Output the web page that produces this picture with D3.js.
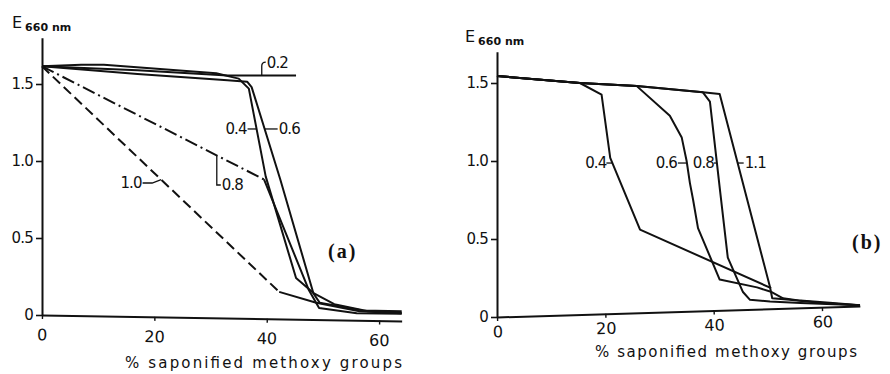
<!DOCTYPE html>
<html>
<head>
<meta charset="utf-8">
<script src="https://cdn.jsdelivr.net/npm/d3@7"></script>
<style>
  body { margin: 0; background: #fff; }
  svg { display: block; }
</style>
</head>
<body>
<svg id="chart" width="890" height="374"></svg>
<script>
// Extinction at 660 nm against % saponified methoxy groups, two panels.

const xTickValues = [0, 20, 40, 60];
const yTickValues = [0, 0.5, 1.0, 1.5];
const yTickLabels = ["0", "0.5", "1.0", "1.5"];
const xTitle = "% saponified methoxy groups";

// Panel (a) — curves labelled 0.2 … 1.0, as [% saponified, E660]
const a02 = [[0, 1.615], [17, 1.59], [33, 1.555], [45.2, 1.555]];
const a04 = [[0, 1.615], [7, 1.625], [11, 1.625], [31, 1.57], [35, 1.535], [36.8, 1.47],
             [39.8, 0.9], [45.2, 0.24], [48.4, 0.14], [52, 0.07], [58, 0.025], [64, 0.015]];
const a06 = [[0, 1.615], [17, 1.565], [33, 1.525], [36.5, 1.515], [37.3, 1.48], [42.4, 0.88],
             [48.3, 0.14], [49.4, 0.08], [57, 0.03], [64, 0.025]];
const a08 = [[0, 1.615], [39.5, 0.88], [47.5, 0.16], [49.3, 0.045], [56, 0.012], [64, 0.008]];
const a10 = [[0, 1.615], [42.2, 0.15], [48.8, 0.08], [56.5, 0.025], [64, 0.012]];

// Panel (b) — curves labelled 0.4 … 1.1
const b04 = [[0, 1.545], [15.3, 1.5], [19.3, 1.425], [20.9, 1.02], [26.4, 0.56], [50.6, 0.185]];
const b06 = [[0, 1.545], [15.3, 1.5], [25.8, 1.48], [31.9, 1.29], [34.1, 1.15], [35.0, 1.0],
             [35.6, 0.86], [36.2, 0.75], [37.1, 0.57], [41.1, 0.24], [48, 0.19], [50.7, 0.16],
             [52.8, 0.12], [56, 0.105], [62, 0.09], [67, 0.075]];
const b08 = [[0, 1.545], [15.3, 1.5], [25.8, 1.48], [38, 1.44], [39.3, 1.38], [41.2, 0.8],
             [42.6, 0.38], [45.4, 0.16], [46.7, 0.11], [50.4, 0.1], [56, 0.09], [67, 0.075]];
const b11 = [[0, 1.545], [15.3, 1.5], [25.8, 1.48], [38, 1.44], [41.1, 1.43], [50.4, 0.19],
             [50.8, 0.12], [54, 0.11], [60, 0.09], [67, 0.075]];

const ink = "#111";
const font = "'DejaVu Sans', sans-serif";
const svg = d3.select("#chart");

// interpolation helpers used to attach label leaders to the curves
function yAtX(pts, xv) {
  for (let i = 0; i < pts.length - 1; i++) {
    const [x0, y0] = pts[i], [x1, y1] = pts[i + 1];
    if (xv >= x0 && xv <= x1) return y0 + (y1 - y0) * (xv - x0) / (x1 - x0);
  }
  return pts[pts.length - 1][1];
}
function xAtY(pts, yv, from = 0) {
  for (let i = from; i < pts.length - 1; i++) {
    const [x0, y0] = pts[i], [x1, y1] = pts[i + 1];
    if ((yv <= y0 && yv >= y1) || (yv >= y0 && yv <= y1)) {
      if (y1 === y0) return x0;
      return x0 + (x1 - x0) * (yv - y0) / (y1 - y0);
    }
  }
  return pts[pts.length - 1][0];
}

function panel(opts) {
  const { x, y, tilt, labelGap, series } = opts;
  const g = svg.append("g");

  // y axis
  const yAxis = d3.axisLeft(y).tickValues(yTickValues)
    .tickFormat((d, i) => yTickLabels[i]).tickSize(6).tickPadding(3).tickSizeOuter(0);
  const gy = g.append("g").attr("transform", `translate(${x(0)},0)`).call(yAxis);
  gy.select(".domain").attr("stroke", ink).attr("stroke-width", 2);
  gy.selectAll(".tick line").attr("stroke", ink).attr("stroke-width", 1.6);
  gy.selectAll(".tick text").attr("fill", ink).style("font", `15px ${font}`)
    .attr("letter-spacing", -0.8);

  // x axis (printed slightly askew)
  const xAxis = d3.axisBottom(x).tickValues(xTickValues).tickSize(4)
    .tickPadding(labelGap).tickSizeOuter(0);
  const gx = g.append("g")
    .attr("transform", `translate(0,${y(0)}) rotate(${tilt},${x(0)},0)`).call(xAxis);
  gx.select(".domain").attr("stroke", ink).attr("stroke-width", 2);
  gx.selectAll(".tick line").attr("stroke", ink).attr("stroke-width", 1.4);
  gx.selectAll(".tick text").attr("fill", ink).style("font", `16px ${font}`);

  // curves; a dashed head part may precede the solid tail
  const gen = d3.line().x(d => x(d[0])).y(d => y(d[1]));
  series.forEach(s => {
    const parts = s.head
      ? [[s.pts.slice(0, s.head + 1), s.dash], [s.pts.slice(s.head), null]]
      : [[s.pts, null]];
    parts.forEach(([pts, dash]) => {
      g.append("path").attr("d", gen(pts)).attr("fill", "none")
        .attr("stroke", ink).attr("stroke-width", 2)
        .attr("stroke-linejoin", "round")
        .attr("stroke-dasharray", dash);
    });
  });
  return g;
}

function eLabel(px, py) {
  const t = svg.append("text").attr("x", px).attr("y", py).attr("fill", ink)
    .style("font-family", font);
  t.append("tspan").style("font-size", "16px").text("E");
  t.append("tspan").attr("dx", 3).attr("dy", 3).style("font-size", "11px")
    .style("font-weight", "bold").text("660 nm");
}

function curveLabel(px, py, txt, anchor = "start") {
  svg.append("text").attr("x", px).attr("y", py).attr("dy", "0.36em")
    .attr("text-anchor", anchor).attr("fill", ink).attr("letter-spacing", -0.9)
    .style("font", `15px ${font}`).text(txt);
}
function leader(d) {
  svg.append("path").attr("d", d).attr("fill", "none").attr("stroke", ink).attr("stroke-width", 1.3);
}

// ---------- panel (a)
const xA = d3.scaleLinear().domain([0, 64]).range([42, 401.7]);
const yA = d3.scaleLinear().domain([0, 1.8]).range([315, 37.8]);
panel({
  x: xA, y: yA, tilt: 0.95, labelGap: 10,
  series: [
    { pts: a02 }, { pts: a04 }, { pts: a06 },
    { pts: a08, head: 1, dash: "13,4,2,4" },
    { pts: a10, head: 1, dash: "10,5" }
  ]
});
eLabel(12, 28);

// 0.2
{
  const lx = 39.1, ly = yAtX(a02, lx), cy = yA(1.636);
  leader(`M${xA(lx)},${yA(ly)} V${cy + 3} q0,-4 4,-4`);
  curveLabel(xA(lx) + 5, cy, "0.2");
}
// 0.4 and 0.6
{
  const e = 1.208, cy = yA(e);
  const x4 = xA(xAtY(a04, e, 5)), x6 = xA(xAtY(a06, e, 4));
  leader(`M${x4},${cy} H${x4 - 9}`);
  curveLabel(x4 - 10, cy, "0.4", "end");
  leader(`M${x6},${cy} H${x6 + 13}`);
  curveLabel(x6 + 14, cy, "0.6");
}
// 0.8
{
  const lx = 31.1, ly = yAtX(a08, lx), cy = yA(0.844);
  leader(`M${xA(lx)},${yA(ly)} V${cy} H${xA(lx) + 4}`);
  curveLabel(xA(lx) + 5, cy, "0.8");
}
// 1.0
{
  const lx = 21.2, ly = yAtX(a10, lx), cy = yA(0.857);
  leader(`M${xA(17.9)},${cy} H${xA(19.6)} L${xA(lx)},${yA(ly)}`);
  curveLabel(xA(17.9) - 1, cy, "1.0", "end");
}
svg.append("text").attr("x", 328).attr("y", 258).attr("fill", ink)
  .attr("letter-spacing", 2)
  .style("font", "bold 20px 'Liberation Serif', serif").text("(a)");
svg.append("text").attr("x", 125).attr("y", 368).attr("fill", ink)
  .attr("textLength", 277).attr("lengthAdjust", "spacing")
  .style("font", `15px ${font}`).text(xTitle);

// ---------- panel (b)
const xB = d3.scaleLinear().domain([0, 67]).range([497, 860]);
const yB = d3.scaleLinear().domain([0, 1.7]).range([317, 51.8]);
panel({
  x: xB, y: yB, tilt: -1.74, labelGap: 5,
  series: [{ pts: b04 }, { pts: b06 }, { pts: b08 }, { pts: b11 }]
});
eLabel(465, 42);

{
  const e = 0.987, cy = yB(e);
  const x4 = xB(xAtY(b04, e, 2)), x6 = xB(xAtY(b06, e, 4));
  const x8 = xB(xAtY(b08, e, 4)), x11 = xB(xAtY(b11, e, 4));
  leader(`M${x4},${cy} H${x4 - 6}`);
  curveLabel(x4 - 6, cy, "0.4", "end");
  leader(`M${x6},${cy} H${x6 - 9}`);
  curveLabel(x6 - 10, cy, "0.6", "end");
  leader(`M${x8},${cy} H${x8 - 3}`);
  curveLabel(x8 - 3, cy, "0.8", "end");
  leader(`M${x11},${cy} H${x11 + 6}`);
  curveLabel(x11 + 7, cy, "1.1");
}
svg.append("text").attr("x", 852).attr("y", 249).attr("fill", ink)
  .attr("letter-spacing", 2)
  .style("font", "bold 20px 'Liberation Serif', serif").text("(b)");
svg.append("text").attr("x", 595).attr("y", 357).attr("fill", ink)
  .attr("textLength", 262).attr("lengthAdjust", "spacing")
  .style("font", `15px ${font}`).text(xTitle);
</script>
</body>
</html>
